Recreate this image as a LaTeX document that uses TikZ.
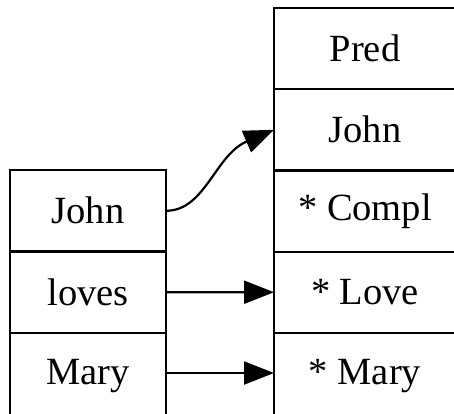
\documentclass[tikz,border=0pt]{standalone}
\usepackage{fontspec}
\setmainfont{Liberation Serif}
\usetikzlibrary{arrows.meta}
\begin{document}
\begin{tikzpicture}[x=1pt,y=-1pt,
  cell/.style={draw, line width=2.2pt, rectangle, inner sep=0pt, outer sep=0pt,
    font=\fontsize{38.5}{42}\selectfont},
  lcell/.style={cell, minimum width=156pt, minimum height=81.5pt},
  rcell/.style={cell, minimum width=182pt, minimum height=81.2pt},
  link/.style={line width=2.2pt, -{Triangle[length=30pt,width=23pt]}}]
\useasboundingbox (0,0) rectangle (454,413);
\clip (0,0) rectangle (454,413);
% left record: the sentence
\node[lcell] (l1) at (88,210.75) {John};
\node[lcell] (l2) at (88,292.25) {loves};
\node[lcell, minimum height=86pt] (l3) at (88,376) {\raisebox{2.5pt}{Mary}};
% right record: the predicate frame
\node[rcell] (r1) at (365,48.6) {Pred};
\node[rcell] (r2) at (365,129.8) {John};
\node[rcell] (r3) at (365,211) {* Compl};
\node[rcell] (r4) at (365,292.2) {* Love};
\node[rcell, minimum height=86pt] (r5) at (365,375.6) {\raisebox{2.5pt}{* Mary}};
% links between words and frame slots
\draw[link] (l1.east) .. controls (205,211) and (215,155) .. (r2.west);
\draw[link] (l2.east) -- (r4.west);
\draw[link] (l3.east |- 0,373) -- (r5.west |- 0,373);
\end{tikzpicture}
\end{document}
